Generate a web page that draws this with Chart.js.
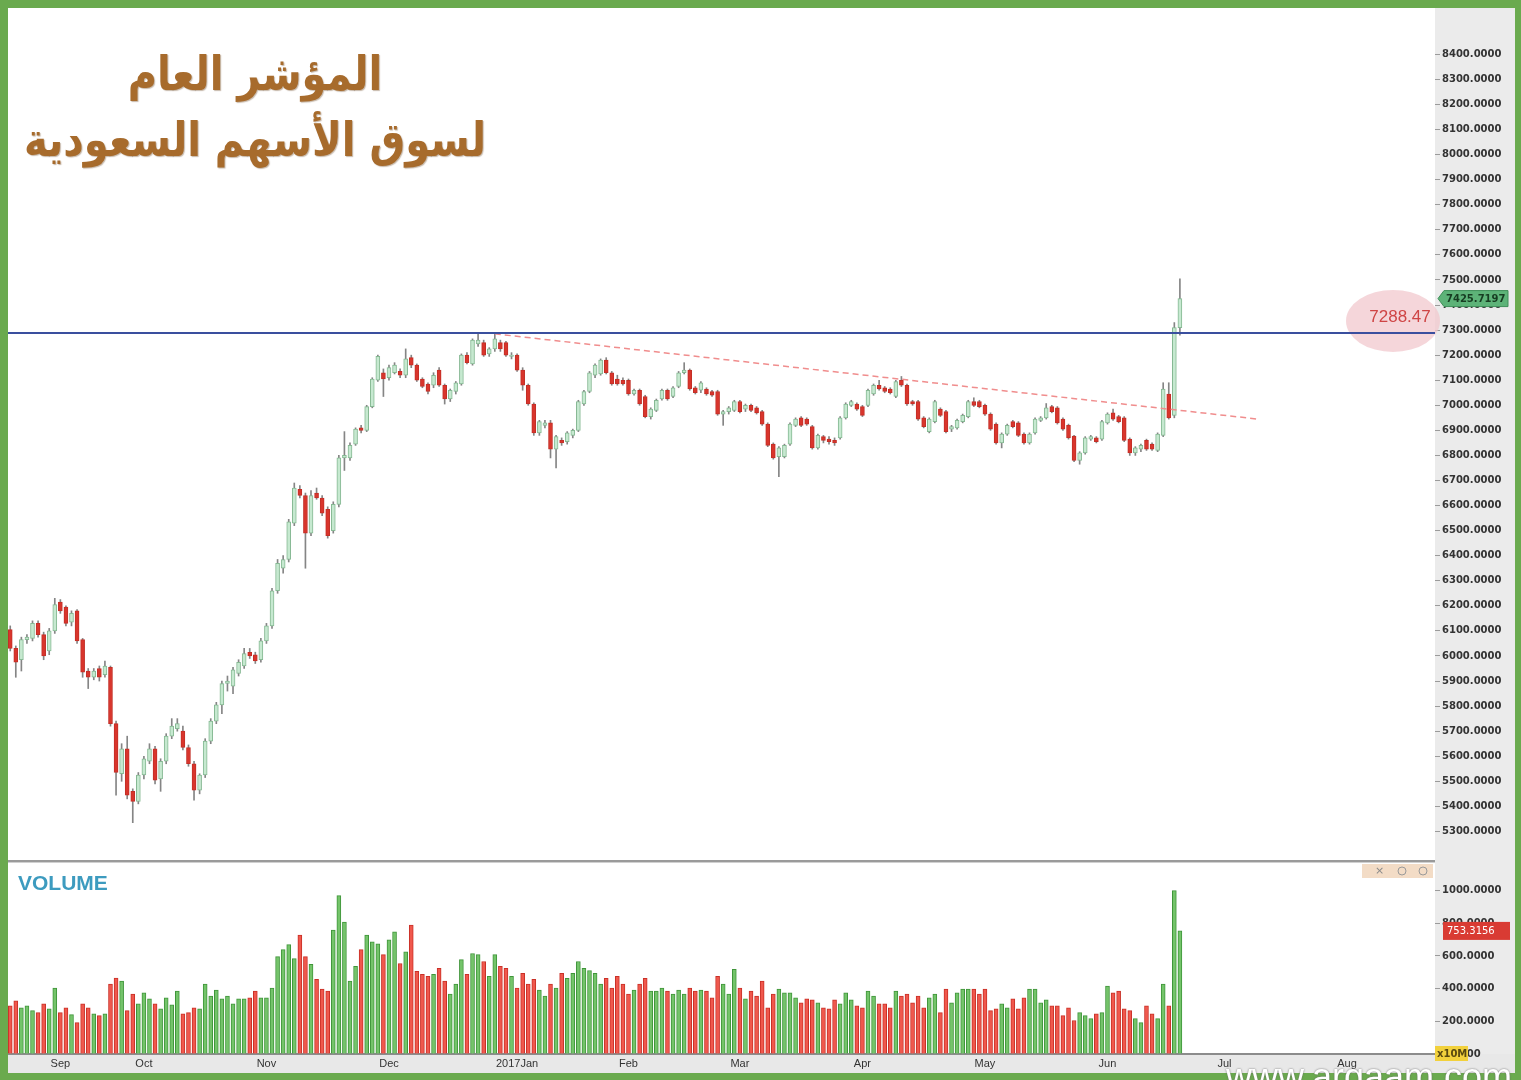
<!DOCTYPE html>
<html><head><meta charset="utf-8">
<script src="https://cdn.jsdelivr.net/npm/chart.js@4.4.1/dist/chart.umd.min.js"></script>
<style>
html,body{margin:0;padding:0;background:#6aaa4e;width:1521px;height:1080px;overflow:hidden;position:relative;}
#frame{position:absolute;left:8px;top:8px;width:1507px;height:1065px;background:#fff;}
#pc{position:absolute;left:8px;top:8px;}
#vc{position:absolute;left:8px;top:862px;}
#sep{position:absolute;left:8px;top:860px;width:1427px;height:2px;background:#9a9a9a;border-bottom:1px solid #d0d0d0;}
.ttl{position:absolute;left:5px;width:500px;text-align:center;direction:rtl;font-family:'DejaVu Sans',sans-serif;font-weight:bold;color:#a76b2c;text-shadow:1px 1px 1px rgba(90,50,10,0.35);white-space:nowrap;transform:scaleY(1.18);transform-origin:50% 0;}
#vol{position:absolute;left:18px;top:871px;font-family:'Liberation Sans',Arial,sans-serif;font-weight:bold;font-size:21px;color:#3d9bbf;}
#wm{position:absolute;left:1226px;top:1056px;font-family:'Liberation Sans',Arial,sans-serif;font-size:36px;color:#fff;text-shadow:0 0 2px #666;white-space:nowrap;}
</style></head>
<body>
<div id="frame"></div>
<canvas id="pc" width="1507" height="854"></canvas>
<div id="sep"></div>
<canvas id="vc" width="1507" height="211"></canvas>
<div class="ttl" style="top:46px;font-size:40px;">المؤشر العام</div>
<div class="ttl" style="top:112px;font-size:40px;">لسوق الأسهم السعودية</div>
<div id="vol">VOLUME</div>
<div id="wm">www.argaam.com</div>
<script>
// ---------------- DATA ----------------
const opens = [6105,6030,5985,6065,6070,6130,6085,6020,6100,6215,6195,6135,6180,6065,5940,5915,5950,5925,5955,5730,
5530,5630,5460,5420,5525,5580,5630,5510,5580,5680,5710,5700,5635,5570,5465,5525,5660,5740,5805,5890,
5880,5930,5960,6015,6005,5985,6060,6120,6260,6350,6385,6530,6665,6640,6490,6650,6630,6585,6500,6605,
6790,6790,6845,6910,6900,6995,7100,7130,7110,7130,7135,7120,7190,7160,7105,7085,7080,7140,7080,7025,
7055,7085,7200,7165,7245,7250,7205,7225,7250,7250,7195,7200,7140,7080,7005,6890,6920,6930,6825,6860,
6855,6880,6900,7005,7055,7120,7125,7180,7130,7105,7100,7100,7045,7060,7035,6955,6980,7025,7060,7035,
7075,7130,7140,7070,7060,7065,7055,7055,6965,6975,6980,7015,6985,7000,6990,6975,6925,6845,6795,6795,
6845,6920,6950,6945,6915,6830,6875,6865,6860,6870,6950,7000,7005,6995,7000,7045,7080,7070,7065,7035,
7100,7080,7015,7015,6950,6895,6935,6985,6975,6905,6910,6935,6955,7015,7015,7000,6965,6925,6850,6885,
6935,6930,6885,6850,6890,6940,6950,6995,6990,6945,6920,6877,6780,6810,6865,6870,6865,6930,6970,6955,
6950,6865,6810,6825,6860,6845,6820,6880,7045,6960,7310];
const highs = [6120,6040,6075,6085,6140,6140,6095,6110,6230,6225,6200,6180,6185,6070,5950,5950,5960,5980,5960,5740,
5650,5680,5470,5535,5600,5650,5640,5590,5690,5750,5750,5720,5645,5580,5530,5670,5750,5815,5900,5920,
5955,5985,6030,6030,6015,6070,6130,6270,6385,6400,6545,6690,6680,6650,6660,6670,6640,6595,6615,6800,
6895,6850,6910,6920,7000,7110,7200,7145,7160,7170,7145,7225,7200,7165,7110,7090,7130,7150,7085,7065,
7095,7205,7210,7265,7290,7260,7230,7290,7260,7255,7210,7205,7150,7085,7010,6940,6940,6940,6880,6870,
6895,6905,7020,7060,7135,7165,7185,7190,7135,7120,7110,7105,7065,7065,7040,6990,7025,7065,7065,7075,
7135,7170,7145,7075,7095,7070,7060,7060,6980,6995,7020,7020,7005,7005,6995,6980,6930,6850,6835,6845,
6930,6950,6955,6950,6920,6885,6880,6875,6870,6955,7010,7020,7010,7000,7065,7085,7100,7075,7070,7100,
7115,7085,7020,7020,6955,6950,7020,6990,6980,6920,6945,6965,7020,7030,7020,7005,6970,6930,6890,6925,
6940,6935,6890,6890,6950,6955,7007,7000,6995,6950,6925,6880,6815,6875,6880,6875,6940,6970,6985,6960,
6955,6870,6835,6845,6865,6850,6890,7090,7090,7330,7505];
const lows = [6020,5915,5940,6050,6060,6075,5985,6005,6090,6170,6120,6120,6050,5915,5870,5905,5900,5915,5720,5445,
5500,5430,5335,5410,5510,5570,5490,5460,5570,5670,5700,5625,5560,5425,5450,5515,5650,5730,5770,5860,
5850,5920,5950,5990,5970,5975,6050,6110,6250,6330,6375,6520,6630,6350,6480,6625,6560,6470,6490,6595,
6740,6780,6840,6890,6895,6990,7095,7035,7100,7125,7110,7110,7150,7095,7070,7045,7070,7075,7005,7015,
7045,7080,7165,7160,7235,7195,7195,7215,7215,7195,7185,7135,7060,7000,6880,6880,6910,6790,6750,6840,
6845,6870,6895,7000,7050,7110,7120,7125,7080,7080,7080,7040,7040,7000,6950,6945,6975,7020,7020,7030,
7070,7125,7060,7045,7050,7040,7035,6960,6920,6965,6975,6970,6975,6975,6965,6920,6835,6785,6715,6790,
6840,6915,6915,6920,6825,6825,6850,6845,6840,6865,6945,6995,6980,6955,6995,7040,7060,7050,7045,7030,
7075,7000,7000,6940,6910,6890,6930,6955,6890,6895,6905,6930,6950,6995,6990,6960,6900,6845,6830,6880,
6910,6875,6845,6845,6885,6935,6945,6970,6925,6900,6865,6775,6765,6805,6860,6850,6860,6925,6940,6930,
6855,6800,6800,6815,6820,6820,6815,6875,6945,6950,7280];
const closes = [6030,5975,6065,6075,6130,6085,6000,6100,6205,6180,6130,6170,6060,5935,5915,5940,5915,5960,5730,5535,
5630,5445,5420,5525,5590,5630,5505,5580,5680,5720,5730,5635,5570,5465,5525,5660,5740,5805,5890,5900,
5945,5975,6010,6000,5980,6060,6120,6260,6370,6385,6535,6670,6640,6490,6640,6630,6570,6480,6605,6790,
6800,6840,6905,6900,6995,7105,7195,7105,7150,7160,7120,7185,7160,7100,7075,7055,7120,7080,7025,7060,
7090,7200,7170,7260,7260,7200,7225,7265,7225,7200,7200,7140,7080,7005,6890,6935,6930,6825,6875,6850,
6890,6900,7015,7055,7130,7160,7180,7130,7085,7085,7085,7045,7060,7005,6955,6985,7020,7060,7025,7070,
7130,7140,7065,7050,7090,7045,7040,6965,6975,6990,7015,6975,7000,6980,6970,6925,6840,6790,6830,6840,
6925,6945,6920,6925,6830,6880,6860,6855,6850,6950,7005,7015,6985,6960,7060,7080,7065,7055,7050,7095,
7080,7005,7005,6945,6915,6945,7015,6960,6895,6915,6940,6960,7015,7000,6995,6965,6905,6850,6885,6920,
6915,6880,6850,6885,6945,6950,6990,6975,6930,6905,6870,6780,6810,6870,6875,6855,6935,6965,6945,6935,
6860,6810,6830,6840,6825,6825,6885,7065,6950,7310,7425.72];
// volume in units of 10M
const volumes = [295,325,283,295,265,253,307,277,403,253,283,241,192,307,283,246,235,246,428,464,
446,265,367,307,374,337,307,277,343,301,385,246,253,283,277,428,355,391,337,355,
307,337,337,343,385,343,343,403,596,639,669,584,728,596,548,457,398,385,759,969,
807,446,536,639,728,687,674,608,698,747,554,626,789,506,487,476,487,524,446,367,
428,578,487,615,608,566,476,608,536,524,476,403,494,428,457,391,355,428,403,494,
463,494,566,524,511,494,428,463,403,476,428,367,391,428,463,385,385,403,385,367,
391,367,403,385,391,385,343,476,428,367,518,403,337,385,
355,446,283,367,398,374,374,343,313,337,331,313,283,277,331,307,374,331,295,283,
385,355,307,307,283,385,355,367,313,355,283,343,367,253,398,313,374,398,398,398,
367,398,265,277,307,283,337,277,343,398,398,313,331,295,295,235,283,205,253,235,
216,246,253,415,374,385,277,265,216,192,295,246,216,428,295,1000,753.3156];
const monthNames = ['Sep','Oct','Nov','Dec','2017Jan','Feb','Mar','Apr','May','Jun','Jul','Aug'];
const monthStartIdx = [9,24,46,68,91,111,131,153,175,197,218,240];
const priceTicks = [5300,5400,5500,5600,5700,5800,5900,6000,6100,6200,6300,6400,6500,6600,6700,6800,6900,7000,7100,7200,7300,7400,7500,7600,7700,7800,7900,8000,8100,8200,8300,8400];
const volumeTicks = [0,200,400,600,800,1000];
const resistanceLevel = 7288.47;
const trendX = [87, 224];
const trendY = [7285, 6945];
const lastClose = 7425.7197;
const lastVolume = 753.3156;

// ---------------- SETTINGS ----------------
const X_MIN = -0.4, X_MAX = 255.8;
const UP_FILL = '#c6e9d0', UP_LINE = '#86b893', DN_FILL = '#d9352c', DN_LINE = '#c22f27';
const VUP_FILL = '#74c46a', VUP_LINE = '#3f953a', VDN_FILL = '#f0584d', VDN_LINE = '#c93027';
const AXIS_W = 80;
const tickFont = {family:'DejaVu Sans', size:10, weight:'bold'};

const idx = closes.map((_, i) => i);
const isUp = i => closes[i] >= opens[i];

const bandPlugin = {
  id: 'band',
  beforeDraw(chart) {
    const {ctx, chartArea} = chart;
    ctx.save();
    ctx.fillStyle = '#ebebeb';
    ctx.fillRect(chartArea.right, 0, chart.width - chartArea.right, chart.height);
    if (chart.canvas.id === 'vc') {
      ctx.fillStyle = '#e8e8e8';
      ctx.fillRect(0, chartArea.bottom, chart.width, chart.height - chartArea.bottom);
    }
    ctx.restore();
  }
};

const priceDeco = {
  id: 'priceDeco',
  beforeDatasetsDraw(chart) {
    const {ctx, chartArea, scales} = chart;
    const y = scales.y.getPixelForValue(resistanceLevel);
    ctx.save();
    ctx.fillStyle = 'rgba(242,200,205,0.75)';
    ctx.beginPath();
    ctx.ellipse(chartArea.right - 42, y - 12, 47, 31, 0, 0, Math.PI * 2);
    ctx.fill();
    ctx.restore();
  },
  afterDraw(chart) {
    const {ctx, chartArea, scales} = chart;
    const y = scales.y.getPixelForValue(resistanceLevel);
    ctx.save();
    ctx.font = '17px "Liberation Sans"';
    ctx.fillStyle = '#cf4545';
    ctx.textAlign = 'center';
    ctx.textBaseline = 'middle';
    ctx.fillText(resistanceLevel.toFixed(2), chartArea.right - 35, y - 16);
    // last price tag
    const yc = scales.y.getPixelForValue(lastClose);
    const x0 = chartArea.right + 3;
    ctx.beginPath();
    ctx.moveTo(x0, yc);
    ctx.lineTo(x0 + 6, yc - 8);
    ctx.lineTo(x0 + 70, yc - 8);
    ctx.lineTo(x0 + 70, yc + 8);
    ctx.lineTo(x0 + 6, yc + 8);
    ctx.closePath();
    ctx.fillStyle = '#5db378';
    ctx.fill();
    ctx.strokeStyle = '#3e8f58';
    ctx.lineWidth = 1;
    ctx.stroke();
    ctx.font = 'bold 10px "DejaVu Sans"';
    ctx.fillStyle = '#173d22';
    ctx.textAlign = 'left';
    ctx.fillText(lastClose.toFixed(4), x0 + 8, yc + 1);
    ctx.restore();
  }
};

const volDeco = {
  id: 'volDeco',
  afterDraw(chart) {
    const {ctx, chartArea, scales} = chart;
    ctx.save();
    const yv = scales.y.getPixelForValue(lastVolume);
    const x0 = chartArea.right + 8;
    ctx.fillStyle = '#d93b33';
    ctx.fillRect(x0, yv - 9, 67, 18);
    ctx.font = '10px "DejaVu Sans"';
    ctx.fillStyle = '#ffffff';
    ctx.textBaseline = 'middle';
    ctx.fillText(lastVolume.toFixed(4), x0 + 4, yv + 1);
    ctx.fillStyle = '#f2d13c';
    ctx.fillRect(chartArea.right, chartArea.bottom - 8, 33, 15);
    ctx.fillStyle = '#5a4a10';
    ctx.font = 'bold 10px "DejaVu Sans"';
    ctx.fillText('x10M', chartArea.right + 2, chartArea.bottom);
    ctx.fillStyle = '#f3dcc6';
    ctx.fillRect(chartArea.right - 73, 2, 71, 14);
    ctx.fillStyle = '#8a8a8a';
    ctx.font = '11px "DejaVu Sans"';
    ctx.fillText('×', chartArea.right - 60, 9);
    ctx.strokeStyle = '#9a9a9a';
    ctx.beginPath(); ctx.arc(chartArea.right - 33, 9, 4, 0, Math.PI * 2); ctx.stroke();
    ctx.beginPath(); ctx.arc(chartArea.right - 12, 9, 4, 0, Math.PI * 2); ctx.stroke();
    ctx.restore();
  }
};

Chart.defaults.animation = false;
Chart.defaults.plugins.legend.display = false;
Chart.defaults.plugins.tooltip.enabled = false;

new Chart(document.getElementById('pc'), {
  type: 'bar',
  data: {
    datasets: [
      { type: 'line', data: [{x: X_MIN, y: resistanceLevel}, {x: X_MAX, y: resistanceLevel}],
        borderColor: '#3a4f9e', borderWidth: 2, pointRadius: 0, order: 0 },
      { type: 'line', data: trendX.map((x, k) => ({x, y: trendY[k]})),
        borderColor: '#f08d8d', borderWidth: 1.5, borderDash: [6, 4], pointRadius: 0, order: 0 },
      { data: idx.map(i => ({x: i, y: [opens[i], closes[i]]})),
        backgroundColor: idx.map(i => isUp(i) ? UP_FILL : DN_FILL),
        borderColor: idx.map(i => isUp(i) ? UP_LINE : DN_LINE),
        borderWidth: 1, borderSkipped: false, barThickness: 4, minBarLength: 1, grouped: false, order: 1 },
      { data: idx.map(i => ({x: i, y: [lows[i], highs[i]]})),
        backgroundColor: '#858585', borderWidth: 0, barThickness: 1, grouped: false, order: 2 }
    ]
  },
  options: {
    responsive: false, devicePixelRatio: 1,
    layout: { padding: { top: 0, bottom: 2, left: 0, right: 0 } },
    scales: {
      x: { type: 'linear', min: X_MIN, max: X_MAX, offset: false, display: false },
      y: { position: 'right', min: 5210, max: 8553,
        afterBuildTicks: s => { s.ticks = priceTicks.map(v => ({value: v})); },
        afterFit: s => { s.width = AXIS_W; },
        grid: { display: true, drawOnChartArea: false, drawTicks: true, tickLength: 5, color: '#9a9a9a' },
        border: { display: false },
        ticks: { font: tickFont, color: '#333', padding: 2, callback: v => Number(v).toFixed(4) }
      }
    }
  },
  plugins: [bandPlugin, priceDeco]
});

new Chart(document.getElementById('vc'), {
  type: 'bar',
  data: {
    datasets: [
      { data: idx.map(i => ({x: i, y: volumes[i]})),
        backgroundColor: idx.map(i => isUp(i) ? VUP_FILL : VDN_FILL),
        borderColor: idx.map(i => isUp(i) ? VUP_LINE : VDN_LINE),
        borderWidth: {left: 1, right: 1, top: 1, bottom: 0}, borderSkipped: false, barThickness: 4 }
    ]
  },
  options: {
    responsive: false, devicePixelRatio: 1,
    layout: { padding: { top: 4, bottom: 0, left: 0, right: 0 } },
    scales: {
      x: { type: 'linear', min: X_MIN, max: X_MAX, offset: false,
        afterBuildTicks: s => { s.ticks = monthStartIdx.map(v => ({value: v})); },
        afterFit: s => { s.height = 19; },
        grid: { display: false, drawTicks: false, tickLength: 0 },
        border: { display: true, color: '#8c8c8c', width: 2 },
        ticks: { autoSkip: false, maxRotation: 0, padding: 3, color: '#333',
          font: {family: 'Liberation Sans', size: 11},
          callback: v => monthNames[monthStartIdx.indexOf(v)] }
      },
      y: { position: 'right', min: 0, max: 1126,
        afterBuildTicks: s => { s.ticks = volumeTicks.map(v => ({value: v})); },
        afterFit: s => { s.width = AXIS_W; },
        grid: { display: true, drawOnChartArea: false, drawTicks: true, tickLength: 5, color: '#9a9a9a' },
        border: { display: false },
        ticks: { font: tickFont, color: '#333', padding: 2, callback: v => Number(v).toFixed(4) }
      }
    }
  },
  plugins: [bandPlugin, volDeco]
});
</script>
</body></html>
